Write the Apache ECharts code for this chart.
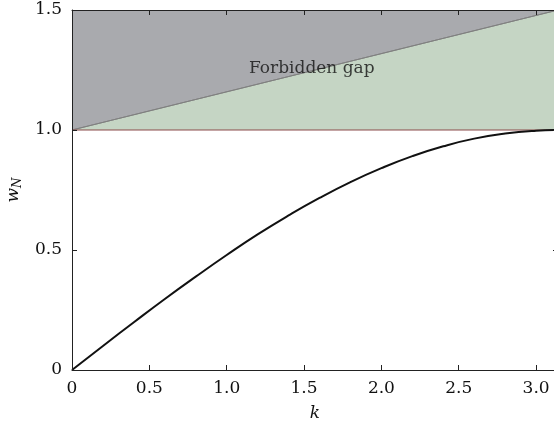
<!DOCTYPE html>
<html>
<head>
<meta charset="utf-8">
<script src="https://cdn.jsdelivr.net/npm/echarts@6/dist/echarts.min.js"></script>
<style>
html, body { margin: 0; padding: 0; background: #fff; }
#container { width: 554px; height: 421px; }
</style>
</head>
<body>
<div id="container"></div>
<script>
// dispersion curve
let kValues = [0, 0.2, 0.4, 0.6, 0.8, 1.0, 1.2, 1.4, 1.6, 1.8, 2.0, 2.2, 2.4, 2.6, 2.8, 3.0, 3.1416];
let wValues = [0, 0.100, 0.199, 0.296, 0.389, 0.479, 0.565, 0.644, 0.717, 0.783, 0.841, 0.891, 0.932, 0.964, 0.985, 0.997, 1.0];

// gap edges
let gapK = [0, 3.1416];
let gapLower = [1.0, 1.0];
let gapDiagonal = [1.0, 1.5];

let font = 'DejaVu Serif';
let fmt = (v) => v === 0 ? '0' : v.toFixed(1);

let curve = kValues.map((k, i) => [k, wValues[i]]);
let diag = gapK.map((k, i) => [k, gapDiagonal[i]]);
let lower = gapK.map((k, i) => [k, gapLower[i]]);

function axisLine() { return { show: true, onZero: false, lineStyle: { color: '#222', width: 1 } }; }
function axisTick() { return { show: true, inside: true, length: 5, lineStyle: { color: '#222', width: 1 } }; }

let chart = echarts.init(document.getElementById('container'));
chart.setOption({
    animation: false,
    grid: { left: 72, right: -4, top: 10, bottom: 51, outerBoundsMode: 'none', containLabel: false },
    xAxis: [{
        type: 'value', min: 0, max: 3.1416, interval: 0.5, z: 10,
        axisLine: axisLine(), axisTick: axisTick(), splitLine: { show: false },
        axisLabel: { formatter: fmt, fontFamily: font, fontSize: 17, color: '#111', margin: 10, showMaxLabel: false },
        name: 'k', nameLocation: 'middle', nameGap: 35,
        nameTextStyle: { fontFamily: font, fontStyle: 'italic', fontSize: 17, color: '#111' }
    }, {
        type: 'value', position: 'top', min: 0, max: 3.1416, interval: 0.5, z: 10,
        axisLine: axisLine(), axisTick: axisTick(), splitLine: { show: false }, axisLabel: { show: false }
    }],
    yAxis: [{
        type: 'value', min: 0, max: 1.5, interval: 0.5, z: 10,
        axisLine: axisLine(), axisTick: axisTick(), splitLine: { show: false },
        axisLabel: { formatter: fmt, fontFamily: font, fontSize: 17, color: '#111', margin: 10 },
        name: '{w|w}{n|N}', nameLocation: 'middle', nameGap: 47,
        nameTextStyle: {
            rich: {
                w: { fontFamily: font, fontStyle: 'italic', fontSize: 17, color: '#111' },
                n: { fontFamily: font, fontStyle: 'italic', fontSize: 12, color: '#111', verticalAlign: 'bottom', padding: [8, 0, 0, 0] }
            }
        }
    }, {
        type: 'value', position: 'right', min: 0, max: 1.5, interval: 0.5, z: 10,
        axisLine: axisLine(), axisTick: axisTick(), splitLine: { show: false }, axisLabel: { show: false }
    }],
    series: [{
        // gray region above the diagonal
        type: 'line', data: diag, symbol: 'none',
        lineStyle: { color: '#808080', width: 1 },
        areaStyle: { color: '#a9aaae', opacity: 1, origin: 'end' },
        z: 1
    }, {
        // green region between 1.0 and the diagonal
        type: 'line', data: diag, symbol: 'none',
        lineStyle: { color: '#808080', width: 1 },
        areaStyle: { color: '#c5d5c4', opacity: 1, origin: 1 },
        z: 1
    }, {
        type: 'line', data: lower, symbol: 'none',
        lineStyle: { color: '#8a4b4b', width: 1 },
        z: 2
    }, {
        type: 'line', data: curve, symbol: 'none', smooth: true,
        lineStyle: { color: '#111', width: 2 },
        z: 3
    }, {
        type: 'scatter', data: [[1.55, 1.255]], symbolSize: 0,
        label: { show: true, position: 'inside', formatter: 'Forbidden gap', fontFamily: font, fontSize: 17, color: '#111' },
        z: 4
    }]
});
</script>
</body>
</html>
